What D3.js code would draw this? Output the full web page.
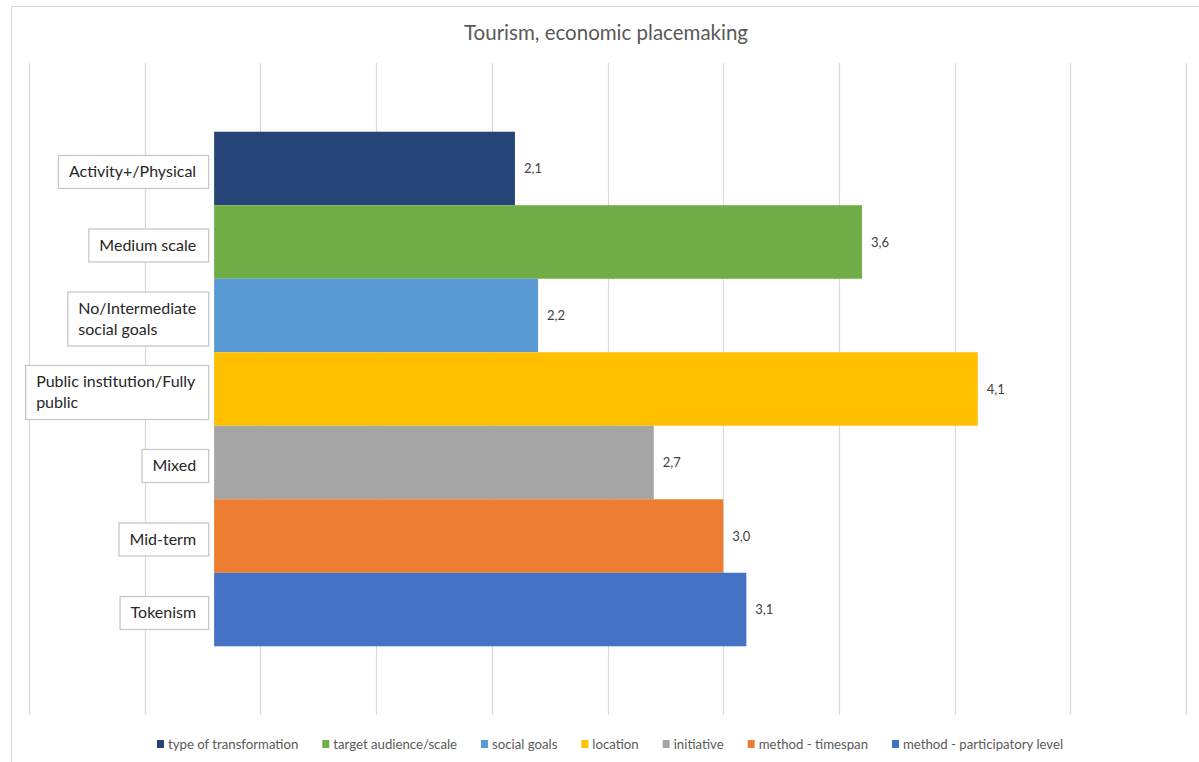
<!DOCTYPE html>
<html>
<head>
<meta charset="utf-8">
<script src="https://cdn.jsdelivr.net/npm/d3@7"></script>
<style>
  html, body { margin: 0; padding: 0; background: #fff; }
  svg { display: block; font-family: Lato, "Open Sans", sans-serif; }
</style>
</head>
<body>
<svg id="chart" width="1199" height="762"></svg>
<script>
// Chart content
const chartTitle = "Tourism, economic placemaking";
const seriesNames = [
  "type of transformation",
  "target audience/scale",
  "social goals",
  "location",
  "initiative",
  "method - timespan",
  "method - participatory level"
];
const categoryLabels = [
  ["Activity+/Physical"],
  ["Medium scale"],
  ["No/Intermediate", "social goals"],
  ["Public institution/Fully", "public"],
  ["Mixed"],
  ["Mid-term"],
  ["Tokenism"]
];
const values = [2.1, 3.6, 2.2, 4.1, 2.7, 3.0, 3.1];
const seriesColors = ["#264478", "#70AD47", "#5B9BD5", "#FFC000", "#A5A5A5", "#ED7D31", "#4472C4"];
const baseValue = 0.8;           // bars start from this value on the axis
const axisDomain = [0, 5];
const gridTicks = [0, 0.5, 1, 1.5, 2, 2.5, 3, 3.5, 4, 4.5, 5];

// Layout
const plot = { left: 29, right: 1186, top: 63, bottom: 715 };

const svg = d3.select("#chart");

// Outer chart frame
svg.append("rect")
  .attr("x", 11.5).attr("y", 6.5)
  .attr("width", 1200).attr("height", 800)
  .attr("fill", "#fff").attr("stroke", "#d9d9d9").attr("stroke-width", 1);

// Title
svg.append("text")
  .attr("x", 606).attr("y", 40)
  .attr("text-anchor", "middle")
  .attr("fill", "#595959")
  .style("font-size", "20.5px")
  .text(chartTitle);

const x = d3.scaleLinear().domain(axisDomain).range([plot.left, plot.right]);
const y = d3.scaleBand()
  .domain(seriesNames)
  .range([plot.top, plot.bottom])
  .paddingInner(0)
  .paddingOuter(0.935);

// Vertical gridlines
svg.append("g")
  .selectAll("line")
  .data(gridTicks)
  .join("line")
  .attr("x1", d => Math.round(x(d)) + 0.5)
  .attr("x2", d => Math.round(x(d)) + 0.5)
  .attr("y1", plot.top)
  .attr("y2", plot.bottom)
  .attr("stroke", "#d9d9d9")
  .attr("stroke-width", 1.2);

const rows = seriesNames.map((name, i) => ({
  name, value: values[i], color: seriesColors[i], label: categoryLabels[i]
}));

const fmt = v => d3.format(".1f")(v).replace(".", ",");

// Bars
svg.append("g")
  .selectAll("rect")
  .data(rows)
  .join("rect")
  .attr("x", x(baseValue))
  .attr("y", d => y(d.name))
  .attr("width", d => x(d.value) - x(baseValue))
  .attr("height", y.bandwidth())
  .attr("fill", d => d.color);

// Value labels
svg.append("g")
  .selectAll("text")
  .data(rows)
  .join("text")
  .attr("x", d => x(d.value) + 9)
  .attr("y", d => y(d.name) + y.bandwidth() / 2)
  .attr("dy", "0.35em")
  .attr("fill", "#404040")
  .style("font-size", "13px")
  .text(d => fmt(d.value));

// Category label boxes, right-aligned against the bar start
const labelSize = 16, lineGap = 21, padL = 11, padR = 12;
const boxRight = x(baseValue) - 6;
const labelG = svg.append("g");
rows.forEach(d => {
  const g = labelG.append("g");
  const cy = y(d.name) + y.bandwidth() / 2 + 3;
  const n = d.label.length;
  const boxH = 33 + (n - 1) * 21;
  const rect = g.append("rect");
  const t = g.append("text")
    .attr("fill", "#262626")
    .style("font-size", labelSize + "px");
  d.label.forEach((line, j) => {
    t.append("tspan")
      .attr("x", 0)
      .attr("y", cy + (j - (n - 1) / 2) * lineGap)
      .attr("dy", "0.35em")
      .text(line);
  });
  const tw = t.node().getBBox().width;
  const boxLeft = boxRight - padR - tw - padL;
  t.selectAll("tspan").attr("x", boxLeft + padL);
  rect.attr("x", boxLeft + 0.5)
    .attr("y", cy - boxH / 2 + 0.5)
    .attr("width", boxRight - boxLeft)
    .attr("height", boxH)
    .attr("fill", "#fff")
    .attr("stroke", "#c8c8c8")
    .attr("stroke-width", 1.3);
});

// Legend
const legend = svg.append("g");
const items = legend.selectAll("g")
  .data(rows)
  .join("g");
items.append("rect")
  .attr("width", 7).attr("height", 8)
  .attr("y", -4)
  .attr("fill", d => d.color);
items.append("text")
  .attr("x", 11)
  .attr("dy", "0.35em")
  .attr("fill", "#595959")
  .style("font-size", "13.2px")
  .text(d => d.name);
let cursor = 0;
const itemGap = 24;
items.each(function() {
  const w = 11 + this.querySelector("text").getComputedTextLength();
  d3.select(this).attr("transform", `translate(${cursor},0)`);
  cursor += w + itemGap;
});
const legendWidth = cursor - itemGap;
legend.attr("transform", `translate(${610 - legendWidth / 2},744)`);
</script>
</body>
</html>
